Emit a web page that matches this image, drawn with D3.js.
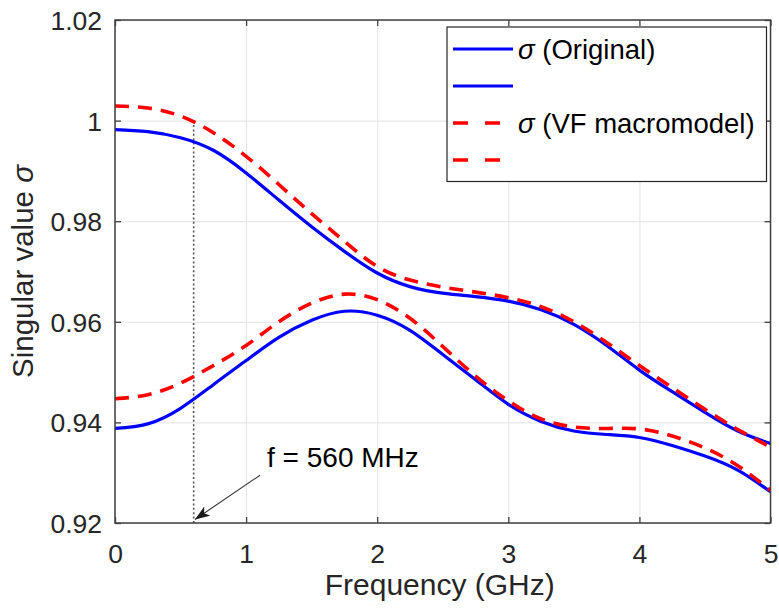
<!DOCTYPE html>
<html>
<head>
<meta charset="utf-8">
<script src="https://cdn.jsdelivr.net/npm/d3@7/dist/d3.min.js"></script>
<style>
  html, body { margin: 0; padding: 0; background: #fff; }
  svg { display: block; font-family: "Liberation Sans", Arial, sans-serif; }
</style>
</head>
<body>
<svg id="chart" width="779" height="610"></svg>
<script>
// ---- data ----
const freq = [0, 0.25, 0.5, 0.75, 1.0, 1.25, 1.5, 1.75, 2.0, 2.25, 2.5, 2.75, 3.0, 3.25, 3.5, 3.75, 4.0, 4.25, 4.5, 4.75, 5.0];
const sigma1Original = [0.9982, 0.9978, 0.9966, 0.9941, 0.9896, 0.9842, 0.9789, 0.9740, 0.9697, 0.9670, 0.9657, 0.9650, 0.9641, 0.9624, 0.9595, 0.9553, 0.9504, 0.9461, 0.9420, 0.9383, 0.9358];
const sigma2Original = [0.9388, 0.9397, 0.9428, 0.9475, 0.9523, 0.9569, 0.9603, 0.9621, 0.9613, 0.9583, 0.9535, 0.9485, 0.9436, 0.9402, 0.9383, 0.9376, 0.9370, 0.9354, 0.9333, 0.9305, 0.9262];
const sigma1VF = [1.0029, 1.0025, 1.0009, 0.9976, 0.9929, 0.9873, 0.9815, 0.9760, 0.9710, 0.9683, 0.9669, 0.9659, 0.9648, 0.9630, 0.9600, 0.9559, 0.9513, 0.9469, 0.9426, 0.9386, 0.9351];
const sigma2VF = [0.9447, 0.9455, 0.9478, 0.9513, 0.9553, 0.9600, 0.9637, 0.9655, 0.9644, 0.9607, 0.9551, 0.9492, 0.9443, 0.9407, 0.9391, 0.9388, 0.9387, 0.9373, 0.9349, 0.9314, 0.9265];

const xTicks = [0, 1, 2, 3, 4, 5];
const xTickLabels = ["0", "1", "2", "3", "4", "5"];
const yTicks = [0.92, 0.94, 0.96, 0.98, 1.0, 1.02];
const yTickLabels = ["0.92", "0.94", "0.96", "0.98", "1", "1.02"];

const legendLabels = ["(Original)", "", "(VF macromodel)", ""];
const markerFreq = 0.6;          // dotted marker line
const markerTop = 0.9999;
const annotationText = "f = 560 MHz";
const arrowFrom = [1.106, 0.9295];
const arrowTo = [0.61, 0.9207];
const annotationPos = [1.16, 0.9311];

// ---- layout ----
const svg = d3.select("#chart");
const L = 115, R = 770.5, T = 20, B = 523;
const x = d3.scaleLinear().domain([0, 5]).range([L, R]);
const y = d3.scaleLinear().domain([0.92, 1.02]).range([B, T]);
const axisColor = "#404040";
const textColor = "#262626";

// grid
const grid = svg.append("g");
grid.append("g").attr("transform", `translate(0,${B})`)
  .call(d3.axisBottom(x).tickValues(xTicks).tickSize(-(B - T)).tickFormat(""))
  .call(g => g.select(".domain").remove())
  .call(g => g.selectAll("line").attr("stroke", "#e3e3e3").attr("stroke-width", 1));
grid.append("g").attr("transform", `translate(${L},0)`)
  .call(d3.axisLeft(y).tickValues(yTicks).tickSize(-(R - L)).tickFormat(""))
  .call(g => g.select(".domain").remove())
  .call(g => g.selectAll("line").attr("stroke", "#e3e3e3").attr("stroke-width", 1));

// clip
svg.append("defs").append("clipPath").attr("id", "plotclip")
  .append("rect").attr("x", L).attr("y", T).attr("width", R - L).attr("height", B - T);

// marker dotted line
svg.append("line")
  .attr("x1", x(markerFreq)).attr("x2", x(markerFreq))
  .attr("y1", y(0.92)).attr("y2", y(markerTop))
  .attr("stroke", "#555").attr("stroke-width", 1.6)
  .attr("stroke-dasharray", "2 2.4");

// lines
const line = d3.line()
  .x((d, i) => x(freq[i]))
  .y(d => y(d))
  .curve(d3.curveNatural);

const plot = svg.append("g").attr("clip-path", "url(#plotclip)");
[sigma1Original, sigma2Original].forEach(s => {
  plot.append("path").attr("d", line(s))
    .attr("fill", "none").attr("stroke", "#0000ff").attr("stroke-width", 3.2);
});
[sigma1VF, sigma2VF].forEach(s => {
  plot.append("path").attr("d", line(s))
    .attr("fill", "none").attr("stroke", "#ff0000").attr("stroke-width", 3.6)
    .attr("stroke-dasharray", "14 9");
});

// axes (inward ticks on all four sides)
function styleAxis(g) {
  g.select(".domain").remove();
  g.selectAll(".tick line").attr("stroke", axisColor).attr("stroke-width", 1.3);
  g.selectAll(".tick text").attr("fill", textColor).style("font-size", "26.5px");
}
svg.append("g").attr("transform", `translate(0,${B})`)
  .call(d3.axisBottom(x).tickValues(xTicks).tickSize(-6).tickFormat((d, i) => xTickLabels[i]))
  .call(styleAxis)
  .call(g => g.selectAll(".tick text").attr("y", 40).attr("dy", 0));
svg.append("g").attr("transform", `translate(0,${T})`)
  .call(d3.axisTop(x).tickValues(xTicks).tickSize(-6).tickFormat(""))
  .call(styleAxis);
svg.append("g").attr("transform", `translate(${L},0)`)
  .call(d3.axisLeft(y).tickValues(yTicks).tickSize(-6).tickFormat((d, i) => yTickLabels[i]))
  .call(styleAxis)
  .call(g => g.selectAll(".tick text").attr("x", -13).attr("dy", "0.36em"));
svg.append("g").attr("transform", `translate(${R},0)`)
  .call(d3.axisRight(y).tickValues(yTicks).tickSize(-6).tickFormat(""))
  .call(styleAxis);

// box
svg.append("rect").attr("x", L).attr("y", T).attr("width", R - L).attr("height", B - T)
  .attr("fill", "none").attr("stroke", axisColor).attr("stroke-width", 1.5);

// axis labels
svg.append("text").attr("x", (L + R) / 2 - 3).attr("y", 595)
  .attr("text-anchor", "middle").attr("fill", textColor).style("font-size", "30px")
  .text("Frequency (GHz)");
const yl = svg.append("text")
  .attr("transform", `translate(33,${(T + B) / 2}) rotate(-90)`)
  .attr("text-anchor", "middle").attr("fill", textColor).style("font-size", "29.5px");
yl.append("tspan").text("Singular value ");
yl.append("tspan").style("font-style", "italic").text("σ");

// annotation
svg.append("defs").append("marker").attr("id", "arrowhead")
  .attr("viewBox", "0 0 15 11").attr("refX", 15).attr("refY", 5.5)
  .attr("markerWidth", 15).attr("markerHeight", 11).attr("markerUnits", "userSpaceOnUse")
  .attr("orient", "auto")
  .append("path").attr("d", "M0,0 L15,5.5 L0,11 L4,5.5 Z").attr("fill", "#1a1a1a");
svg.append("line")
  .attr("x1", x(arrowFrom[0])).attr("y1", y(arrowFrom[1]))
  .attr("x2", x(arrowTo[0])).attr("y2", y(arrowTo[1]))
  .attr("stroke", "#333").attr("stroke-width", 1.1)
  .attr("marker-end", "url(#arrowhead)");
svg.append("text").attr("x", x(annotationPos[0])).attr("y", y(annotationPos[1]))
  .attr("fill", "#000").style("font-size", "28px").text(annotationText);

// legend
const lg = svg.append("g");
lg.append("rect").attr("x", 447).attr("y", 27).attr("width", 319.5).attr("height", 154.5)
  .attr("fill", "#fff").attr("stroke", textColor).attr("stroke-width", 1.2);
const rowsY = [49, 86, 123, 160];
const legendStyles = [
  { color: "#0000ff", dash: null, w: 3.2, len: 60 },
  { color: "#0000ff", dash: null, w: 3.2, len: 60 },
  { color: "#ff0000", dash: "15 17", w: 3.6, len: 48 },
  { color: "#ff0000", dash: "15 17", w: 3.6, len: 48 }
];
legendLabels.forEach((lab, i) => {
  const st = legendStyles[i];
  lg.append("line").attr("x1", 453).attr("x2", 453 + st.len)
    .attr("y1", rowsY[i]).attr("y2", rowsY[i])
    .attr("stroke", st.color).attr("stroke-width", st.w)
    .attr("stroke-dasharray", st.dash);
  if (lab) {
    const t = lg.append("text").attr("x", 518).attr("y", rowsY[i] + 9.5)
      .attr("fill", "#000").style("font-size", "27.5px");
    t.append("tspan").style("font-style", "italic").text("σ");
    t.append("tspan").text(" " + lab);
  }
});
</script>
</body>
</html>
